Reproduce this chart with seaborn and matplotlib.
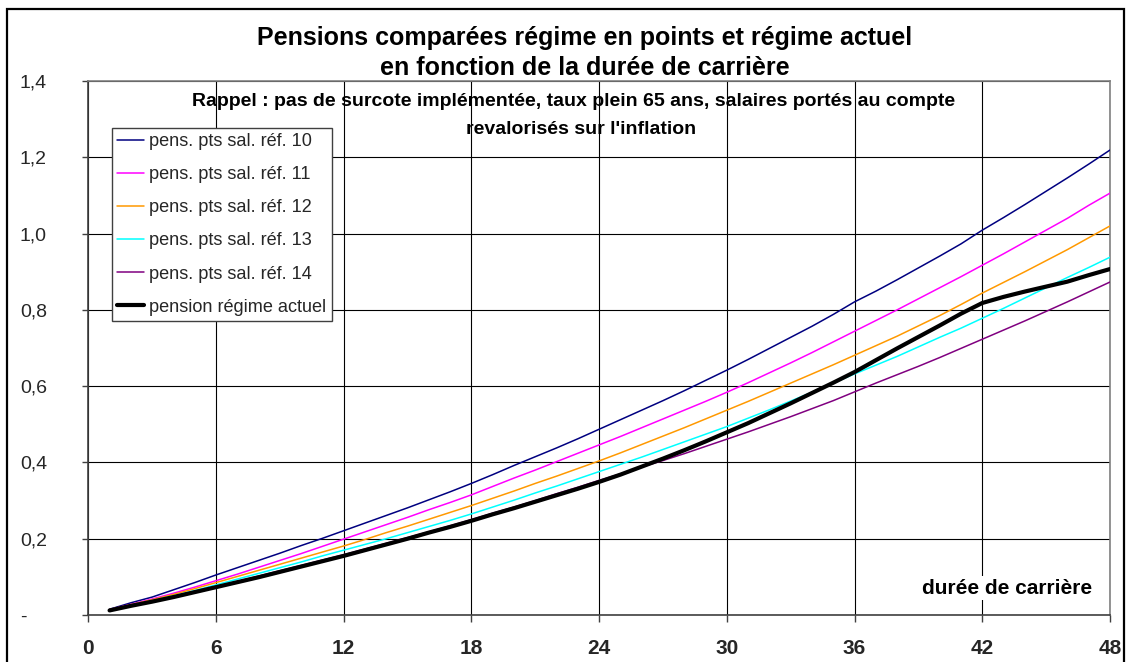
import matplotlib
matplotlib.use("Agg")
import matplotlib.pyplot as plt
import seaborn as sns
import pandas as pd
from matplotlib.patches import Rectangle

# ---------------- data ----------------
duree = list(range(1, 49))

ref10 = [0.015, 0.032, 0.047, 0.066, 0.085, 0.105, 0.124, 0.143, 0.162, 0.182,
         0.201, 0.221, 0.241, 0.261, 0.281, 0.302, 0.323, 0.345, 0.368, 0.392,
         0.415, 0.438, 0.462, 0.487, 0.512, 0.537, 0.562, 0.588, 0.615, 0.642,
         0.670, 0.699, 0.728, 0.757, 0.788, 0.821, 0.849, 0.879, 0.910, 0.941,
         0.973, 1.009, 1.042, 1.076, 1.111, 1.146, 1.182, 1.219]
ref11 = [0.014, 0.028, 0.042, 0.057, 0.073, 0.090, 0.107, 0.125, 0.143, 0.161,
         0.180, 0.199, 0.218, 0.237, 0.256, 0.276, 0.295, 0.315, 0.337, 0.359,
         0.380, 0.402, 0.424, 0.446, 0.468, 0.491, 0.514, 0.537, 0.560, 0.584,
         0.609, 0.635, 0.661, 0.688, 0.716, 0.744, 0.772, 0.800, 0.829, 0.858,
         0.887, 0.917, 0.947, 0.978, 1.009, 1.040, 1.074, 1.106]
ref12 = [0.014, 0.027, 0.040, 0.054, 0.069, 0.085, 0.101, 0.117, 0.133, 0.149,
         0.165, 0.181, 0.198, 0.216, 0.233, 0.251, 0.269, 0.287, 0.306, 0.325,
         0.345, 0.364, 0.384, 0.404, 0.425, 0.447, 0.469, 0.491, 0.514, 0.537,
         0.560, 0.584, 0.608, 0.632, 0.656, 0.681, 0.706, 0.731, 0.758, 0.785,
         0.814, 0.844, 0.872, 0.900, 0.929, 0.958, 0.989, 1.020]
ref13 = [0.013, 0.025, 0.037, 0.050, 0.064, 0.079, 0.094, 0.109, 0.124, 0.139,
         0.155, 0.170, 0.185, 0.200, 0.216, 0.232, 0.248, 0.265, 0.283, 0.301,
         0.320, 0.338, 0.357, 0.376, 0.395, 0.414, 0.434, 0.454, 0.474, 0.494,
         0.516, 0.538, 0.561, 0.584, 0.608, 0.632, 0.655, 0.678, 0.703, 0.728,
         0.752, 0.778, 0.804, 0.831, 0.858, 0.885, 0.911, 0.938]
ref14 = [0.013, 0.025, 0.036, 0.049, 0.062, 0.075, 0.088, 0.102, 0.116, 0.130,
         0.144, 0.158, 0.173, 0.188, 0.203, 0.218, 0.234, 0.250, 0.267, 0.283,
         0.300, 0.318, 0.335, 0.353, 0.370, 0.388, 0.405, 0.423, 0.442, 0.461,
         0.480, 0.500, 0.520, 0.541, 0.562, 0.585, 0.608, 0.630, 0.652, 0.675,
         0.699, 0.723, 0.747, 0.771, 0.796, 0.821, 0.847, 0.873]
actuel = [0.012, 0.024, 0.035, 0.047, 0.060, 0.073, 0.086, 0.099, 0.113, 0.127,
          0.141, 0.155, 0.170, 0.185, 0.200, 0.216, 0.231, 0.247, 0.264, 0.280,
          0.297, 0.314, 0.331, 0.349, 0.368, 0.389, 0.410, 0.432, 0.455, 0.479,
          0.503, 0.529, 0.555, 0.582, 0.609, 0.637, 0.668, 0.699, 0.729, 0.759,
          0.790, 0.818, 0.834, 0.848, 0.861, 0.874, 0.891, 0.907]

series_names = ["pens. pts sal. réf. 10", "pens. pts sal. réf. 11",
                "pens. pts sal. réf. 12", "pens. pts sal. réf. 13",
                "pens. pts sal. réf. 14", "pension régime actuel"]
series_values = [ref10, ref11, ref12, ref13, ref14, actuel]
series_colors = ["#000080", "#FF00FF", "#FF9900", "#00FFFF", "#800080", "#000000"]
series_widths = [1.1, 1.1, 1.1, 1.1, 1.1, 3.0]

x_ticks = [0, 6, 12, 18, 24, 30, 36, 42, 48]
y_ticks = [0.0, 0.2, 0.4, 0.6, 0.8, 1.0, 1.2, 1.4]
y_tick_labels = ["-", "0,2", "0,4", "0,6", "0,8", "1,0", "1,2", "1,4"]

title_l1 = "Pensions comparées régime en points et régime actuel"
title_l2 = "en fonction de la durée de carrière"
note_l1 = "Rappel : pas de surcote implémentée, taux plein 65 ans, salaires portés au compte"
note_l2 = "revalorisés sur l'inflation"
x_label = "durée de carrière"

# ---------------- style ----------------
sns.set_theme(style="white")
plt.rcParams["font.family"] = ["Liberation Sans", "DejaVu Sans"]

W, H = 1128, 662
fig = plt.figure(figsize=(W / 100, H / 100), dpi=100)
fig.patch.set_facecolor("white")

ax = fig.add_axes([88.3 / W, 1 - 615 / H, (1110 - 88.3) / W, (615 - 81) / H])
ax.set_facecolor("white")

for name, vals, col, lw in zip(series_names, series_values, series_colors, series_widths):
    df = pd.DataFrame({"x": duree, "y": vals})
    sns.lineplot(data=df, x="x", y="y", ax=ax, color=col, linewidth=lw, label=name,
                 zorder=3)

ax.set_xlim(0, 48)
ax.set_ylim(0, 1.4)
ax.set_xticks(x_ticks)
ax.set_xticklabels([str(t) for t in x_ticks], fontweight="bold", fontsize=15)
ax.set_yticks(y_ticks)
ax.set_yticklabels(y_tick_labels, fontsize=14)
ax.set_xlabel("")
ax.set_ylabel("")

ax.grid(True, color="black", linewidth=0.8, zorder=0)
ax.set_axisbelow(True)

ax.tick_params(axis="x", direction="out", length=5, width=1, color="#404040",
               pad=12.5, bottom=True)
ax.tick_params(axis="y", direction="out", length=4.3, width=1, color="#404040",
               pad=44.9, left=True)
for lab in ax.get_yticklabels():
    lab.set_horizontalalignment("left")

for side in ["left", "bottom"]:
    ax.spines[side].set_color("#404040")
    ax.spines[side].set_linewidth(1.2)
for side in ["top", "right"]:
    ax.spines[side].set_color("#808080")
    ax.spines[side].set_linewidth(1.2)

# legend
leg = ax.legend(loc="upper left", bbox_to_anchor=((112 - 88.3) / (1110 - 88.3),
                                                  (615 - 128) / (615 - 81)),
                borderaxespad=0, fontsize=13.1, frameon=True, fancybox=False,
                framealpha=1, edgecolor="#404040", borderpad=0.3,
                labelspacing=0.88, handlelength=1.45, handletextpad=0.28)
leg.get_frame().set_linewidth(1.0)
leg.set_zorder(5)

# titles and notes
fig.text(585 / W, 1 - 38 / H, title_l1, ha="center", va="center",
         fontsize=18, fontweight="bold", color="black")
fig.text(585 / W, 1 - 68 / H, title_l2, ha="center", va="center",
         fontsize=18, fontweight="bold", color="black")
fig.text(574 / W, 1 - 101 / H, note_l1, ha="center", va="center",
         fontsize=14, fontweight="bold", color="black", zorder=4)
fig.text(581 / W, 1 - 129 / H, note_l2, ha="center", va="center",
         fontsize=14, fontweight="bold", color="black", zorder=4)

ax.text(1092 / W, 1 - 588 / H, x_label, transform=fig.transFigure, ha="right",
        va="center", fontsize=15, fontweight="bold", color="black", zorder=6,
        bbox=dict(facecolor="white", edgecolor="none", pad=2))

# outer border
fig.patches.append(Rectangle((7 / W, -0.05), (1124 - 7) / W, 1 - 9 / H + 0.05,
                             transform=fig.transFigure, fill=False,
                             edgecolor="black", linewidth=1.6))

fig.savefig("out.png", dpi=100, facecolor="white")
